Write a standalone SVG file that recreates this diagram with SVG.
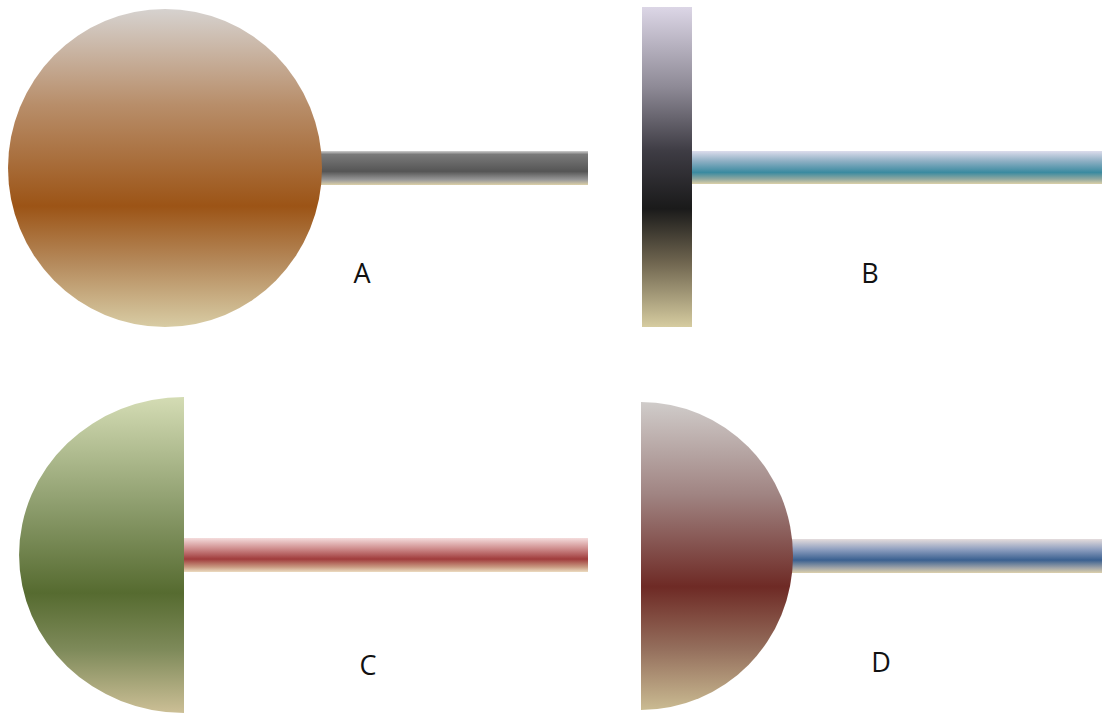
<svg xmlns="http://www.w3.org/2000/svg" width="1102" height="715" viewBox="0 0 1102 715">
<style>
.lbl{font-family:"Open Sans","Liberation Sans",sans-serif;font-size:27px;fill:#111;text-anchor:middle}
</style>
<defs>
<linearGradient id="gA" x1="0" y1="0" x2="0" y2="1">
<stop offset="0" stop-color="#d6d2cf"/><stop offset="0.3" stop-color="#b88e6a"/><stop offset="0.62" stop-color="#9c5416"/><stop offset="0.8" stop-color="#b58a5c"/><stop offset="1" stop-color="#d8cca4"/>
</linearGradient>
<linearGradient id="sA" x1="0" y1="0" x2="0" y2="1">
<stop offset="0" stop-color="#cfcfcf"/><stop offset="0.1" stop-color="#7a7a7a"/><stop offset="0.6" stop-color="#555"/><stop offset="0.85" stop-color="#999"/><stop offset="1" stop-color="#dcd0a8"/>
</linearGradient>
<linearGradient id="gB" x1="0" y1="0" x2="0" y2="1">
<stop offset="0" stop-color="#dcd6e6"/><stop offset="0.25" stop-color="#8e8a96"/><stop offset="0.45" stop-color="#3e3c44"/><stop offset="0.63" stop-color="#1a1a1a"/><stop offset="0.8" stop-color="#706650"/><stop offset="1" stop-color="#d6cca0"/>
</linearGradient>
<linearGradient id="sB" x1="0" y1="0" x2="0" y2="1">
<stop offset="0" stop-color="#dcdcec"/><stop offset="0.3" stop-color="#8fb0c4"/><stop offset="0.65" stop-color="#3a8aa0"/><stop offset="0.85" stop-color="#90a8a0"/><stop offset="1" stop-color="#dcd0a8"/>
</linearGradient>
<linearGradient id="gC" x1="0" y1="0" x2="0" y2="1">
<stop offset="0" stop-color="#d4dcb4"/><stop offset="0.35" stop-color="#8c9c6c"/><stop offset="0.62" stop-color="#566b30"/><stop offset="0.8" stop-color="#7e8a5a"/><stop offset="1" stop-color="#ccbf96"/>
</linearGradient>
<linearGradient id="sC" x1="0" y1="0" x2="0" y2="1">
<stop offset="0" stop-color="#f4dcdc"/><stop offset="0.3" stop-color="#d09090"/><stop offset="0.62" stop-color="#a03c3c"/><stop offset="0.85" stop-color="#c89880"/><stop offset="1" stop-color="#ecdcc0"/>
</linearGradient>
<linearGradient id="gD" x1="0" y1="0" x2="0" y2="1">
<stop offset="0" stop-color="#d0ccca"/><stop offset="0.3" stop-color="#a08482"/><stop offset="0.6" stop-color="#6e2a25"/><stop offset="0.8" stop-color="#946e5c"/><stop offset="1" stop-color="#cabb92"/>
</linearGradient>
<linearGradient id="sD" x1="0" y1="0" x2="0" y2="1">
<stop offset="0" stop-color="#e4dcdc"/><stop offset="0.3" stop-color="#90a0c0"/><stop offset="0.62" stop-color="#3a6090"/><stop offset="0.85" stop-color="#a0a4a8"/><stop offset="1" stop-color="#dcd0ac"/>
</linearGradient>
</defs>
<rect width="1102" height="715" fill="#fff"/>
<g id="nodeA">
<rect x="300" y="151" width="288" height="34" fill="url(#sA)"/>
<ellipse cx="165" cy="168" rx="157" ry="159" fill="url(#gA)"/>
<text class="lbl" x="362" y="283">A</text>
</g>
<g id="nodeB">
<rect x="692" y="151" width="410" height="33" fill="url(#sB)"/>
<rect x="642" y="7" width="50" height="320" fill="url(#gB)"/>
<text class="lbl" x="870" y="283">B</text>
</g>
<g id="nodeC">
<rect x="184" y="538" width="404" height="34" fill="url(#sC)"/>
<path d="M184,397 A165,158 0 0 0 184,713 Z" fill="url(#gC)"/>
<text class="lbl" x="368" y="675">C</text>
</g>
<g id="nodeD">
<rect x="780" y="539" width="322" height="34" fill="url(#sD)"/>
<path d="M641,402 A152,154 0 0 1 641,710 Z" fill="url(#gD)"/>
<text class="lbl" x="881" y="672">D</text>
</g>
</svg>
